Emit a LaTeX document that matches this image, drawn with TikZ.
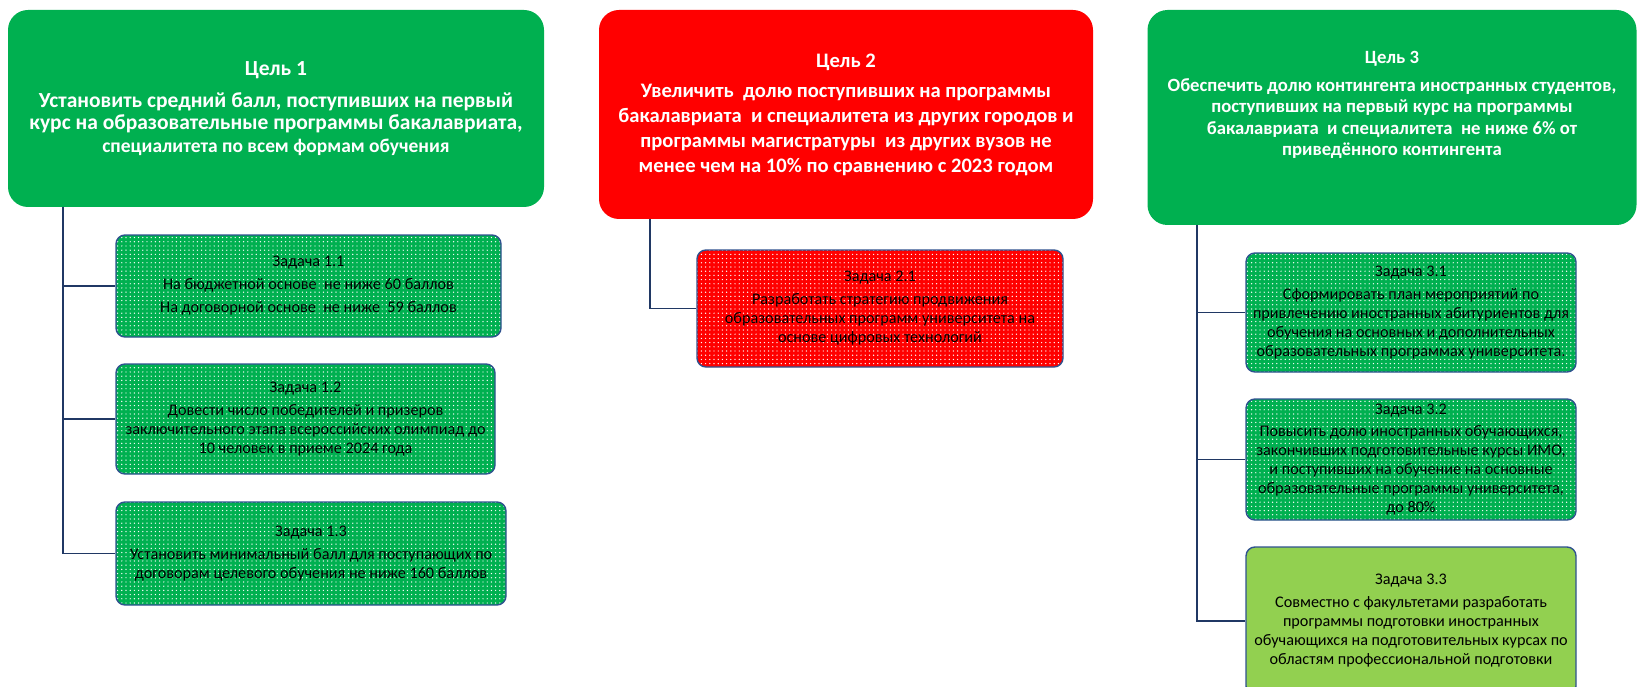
\documentclass[tikz,border=0pt]{standalone}
\usepackage{fontspec}
\setmainfont{Carlito}
\usetikzlibrary{patterns.meta}
\definecolor{goalgreen}{HTML}{00B050}
\definecolor{goalred}{HTML}{FF0000}
\definecolor{lightgreen}{HTML}{92D050}
\definecolor{boxline}{HTML}{2F528F}
\definecolor{navy}{HTML}{203864}
\tikzstyle{goal} = [rounded corners=20pt, align=center, text=white, inner sep=0pt, font=\bfseries\fontsize{21.5}{22.5}\selectfont]
\tikzstyle{box} = [draw=boxline, line width=1.4pt, rounded corners=9pt, align=center, inner sep=0pt, font=\fontsize{16.2}{19}\selectfont]
\tikzstyle{dotfill} = [pattern={Dots[distance=4.2pt,radius=0.7pt]}, pattern color=white]
\tikzstyle{task} = [box, dotfill, preaction={fill=goalgreen}]
\tikzstyle{redtask} = [box, dotfill, preaction={fill=goalred}]
\tikzstyle{plaintask} = [box, fill=lightgreen]
\tikzstyle{line} = [draw=navy, line width=1.4pt]

\begin{document}
\begin{tikzpicture}[x=1pt,y=-1pt]
\useasboundingbox (0,0) rectangle (1638,687);
\node (goal1) at (276,108.5) [goal, fill=goalgreen, minimum width=536, minimum height=197] {Цель 1\\[9pt] Установить средний балл, поступивших на первый\\ курс на образовательные программы бакалавриата,\\ {\fontsize{19.5}{22.5}\selectfont специалитета по всем формам обучения}};
\node (goal2) at (846,114.5) [goal, fill=goalred, minimum width=494, minimum height=209, font=\bfseries\fontsize{20.6}{25}\selectfont] {Цель 2\\[5pt] Увеличить\ \ долю поступивших на программы\\ бакалавриата\ \ и специалитета из других городов и\\ программы магистратуры\ \ из других вузов не\\ менее чем на 10\% по сравнению с 2023 годом};
\node (goal3) at (1392,117.5) [goal, fill=goalgreen, minimum width=489, minimum height=215, text depth=28pt, font=\bfseries\fontsize{18.7}{21.4}\selectfont] {Цель 3\\[6pt] Обеспечить долю контингента иностранных студентов,\\ поступивших на первый курс на программы\\ бакалавриата\ \ и специалитета\ \ не ниже 6\% от\\ приведённого контингента};
\node (task11) at (308.5,286) [task, minimum width=385, minimum height=102] {Задача 1.1\\[4pt] На бюджетной основе\ \ не ниже 60 баллов\\[4pt] На договорной основе\ \ не ниже\ \ 59 баллов};
\node (task12) at (305.5,419) [task, minimum width=379, minimum height=110] {Задача 1.2\\[4pt] Довести число победителей и призеров\\ заключительного этапа всероссийских олимпиад до\\ 10 человек в приеме 2024 года};
\node (task13) at (311,553.5) [task, minimum width=390, minimum height=103] {Задача 1.3\\[4pt] Установить минимальный балл для поступающих по\\ договорам целевого обучения не ниже 160 баллов};
\node (task21) at (880,308.5) [redtask, minimum width=366, minimum height=117] {Задача 2.1\\[4pt] Разработать стратегию продвижения\\ образовательных программ университета на\\ основе цифровых технологий};
\node (task31) at (1411,312.5) [task, minimum width=330, minimum height=119] {Задача 3.1\\[4pt] Сформировать план мероприятий по\\ привлечению иностранных абитуриентов для\\ обучения на основных и дополнительных\\ образовательных программах университета.};
\node (task32) at (1411,459.5) [task, minimum width=330, minimum height=121] {Задача 3.2\\[3pt] Повысить долю иностранных обучающихся,\\ закончивших подготовительные курсы ИМО,\\ и поступивших на обучение на основные\\ образовательные программы университета,\\ до 80\%};
\node (task33) at (1411,621) [plaintask, minimum width=330, minimum height=148] {Задача 3.3\\[4pt] Совместно с факультетами разработать\\ программы подготовки иностранных\\ обучающихся на подготовительных курсах по\\ областям профессиональной подготовки};
\coordinate (from1) at (63,207);
\coordinate (from2) at (650,219);
\coordinate (from3) at (1197,225);
% draw lines
\path [line] (from1) |- (task11);
\path [line] (from1) |- (task12);
\path [line] (from1) |- (task13);
\path [line] (from2) |- (task21);
\path [line] (from3) |- (task31);
\path [line] (from3) |- (task32);
\path [line] (from3) |- (task33);
\end{tikzpicture}
\end{document}
